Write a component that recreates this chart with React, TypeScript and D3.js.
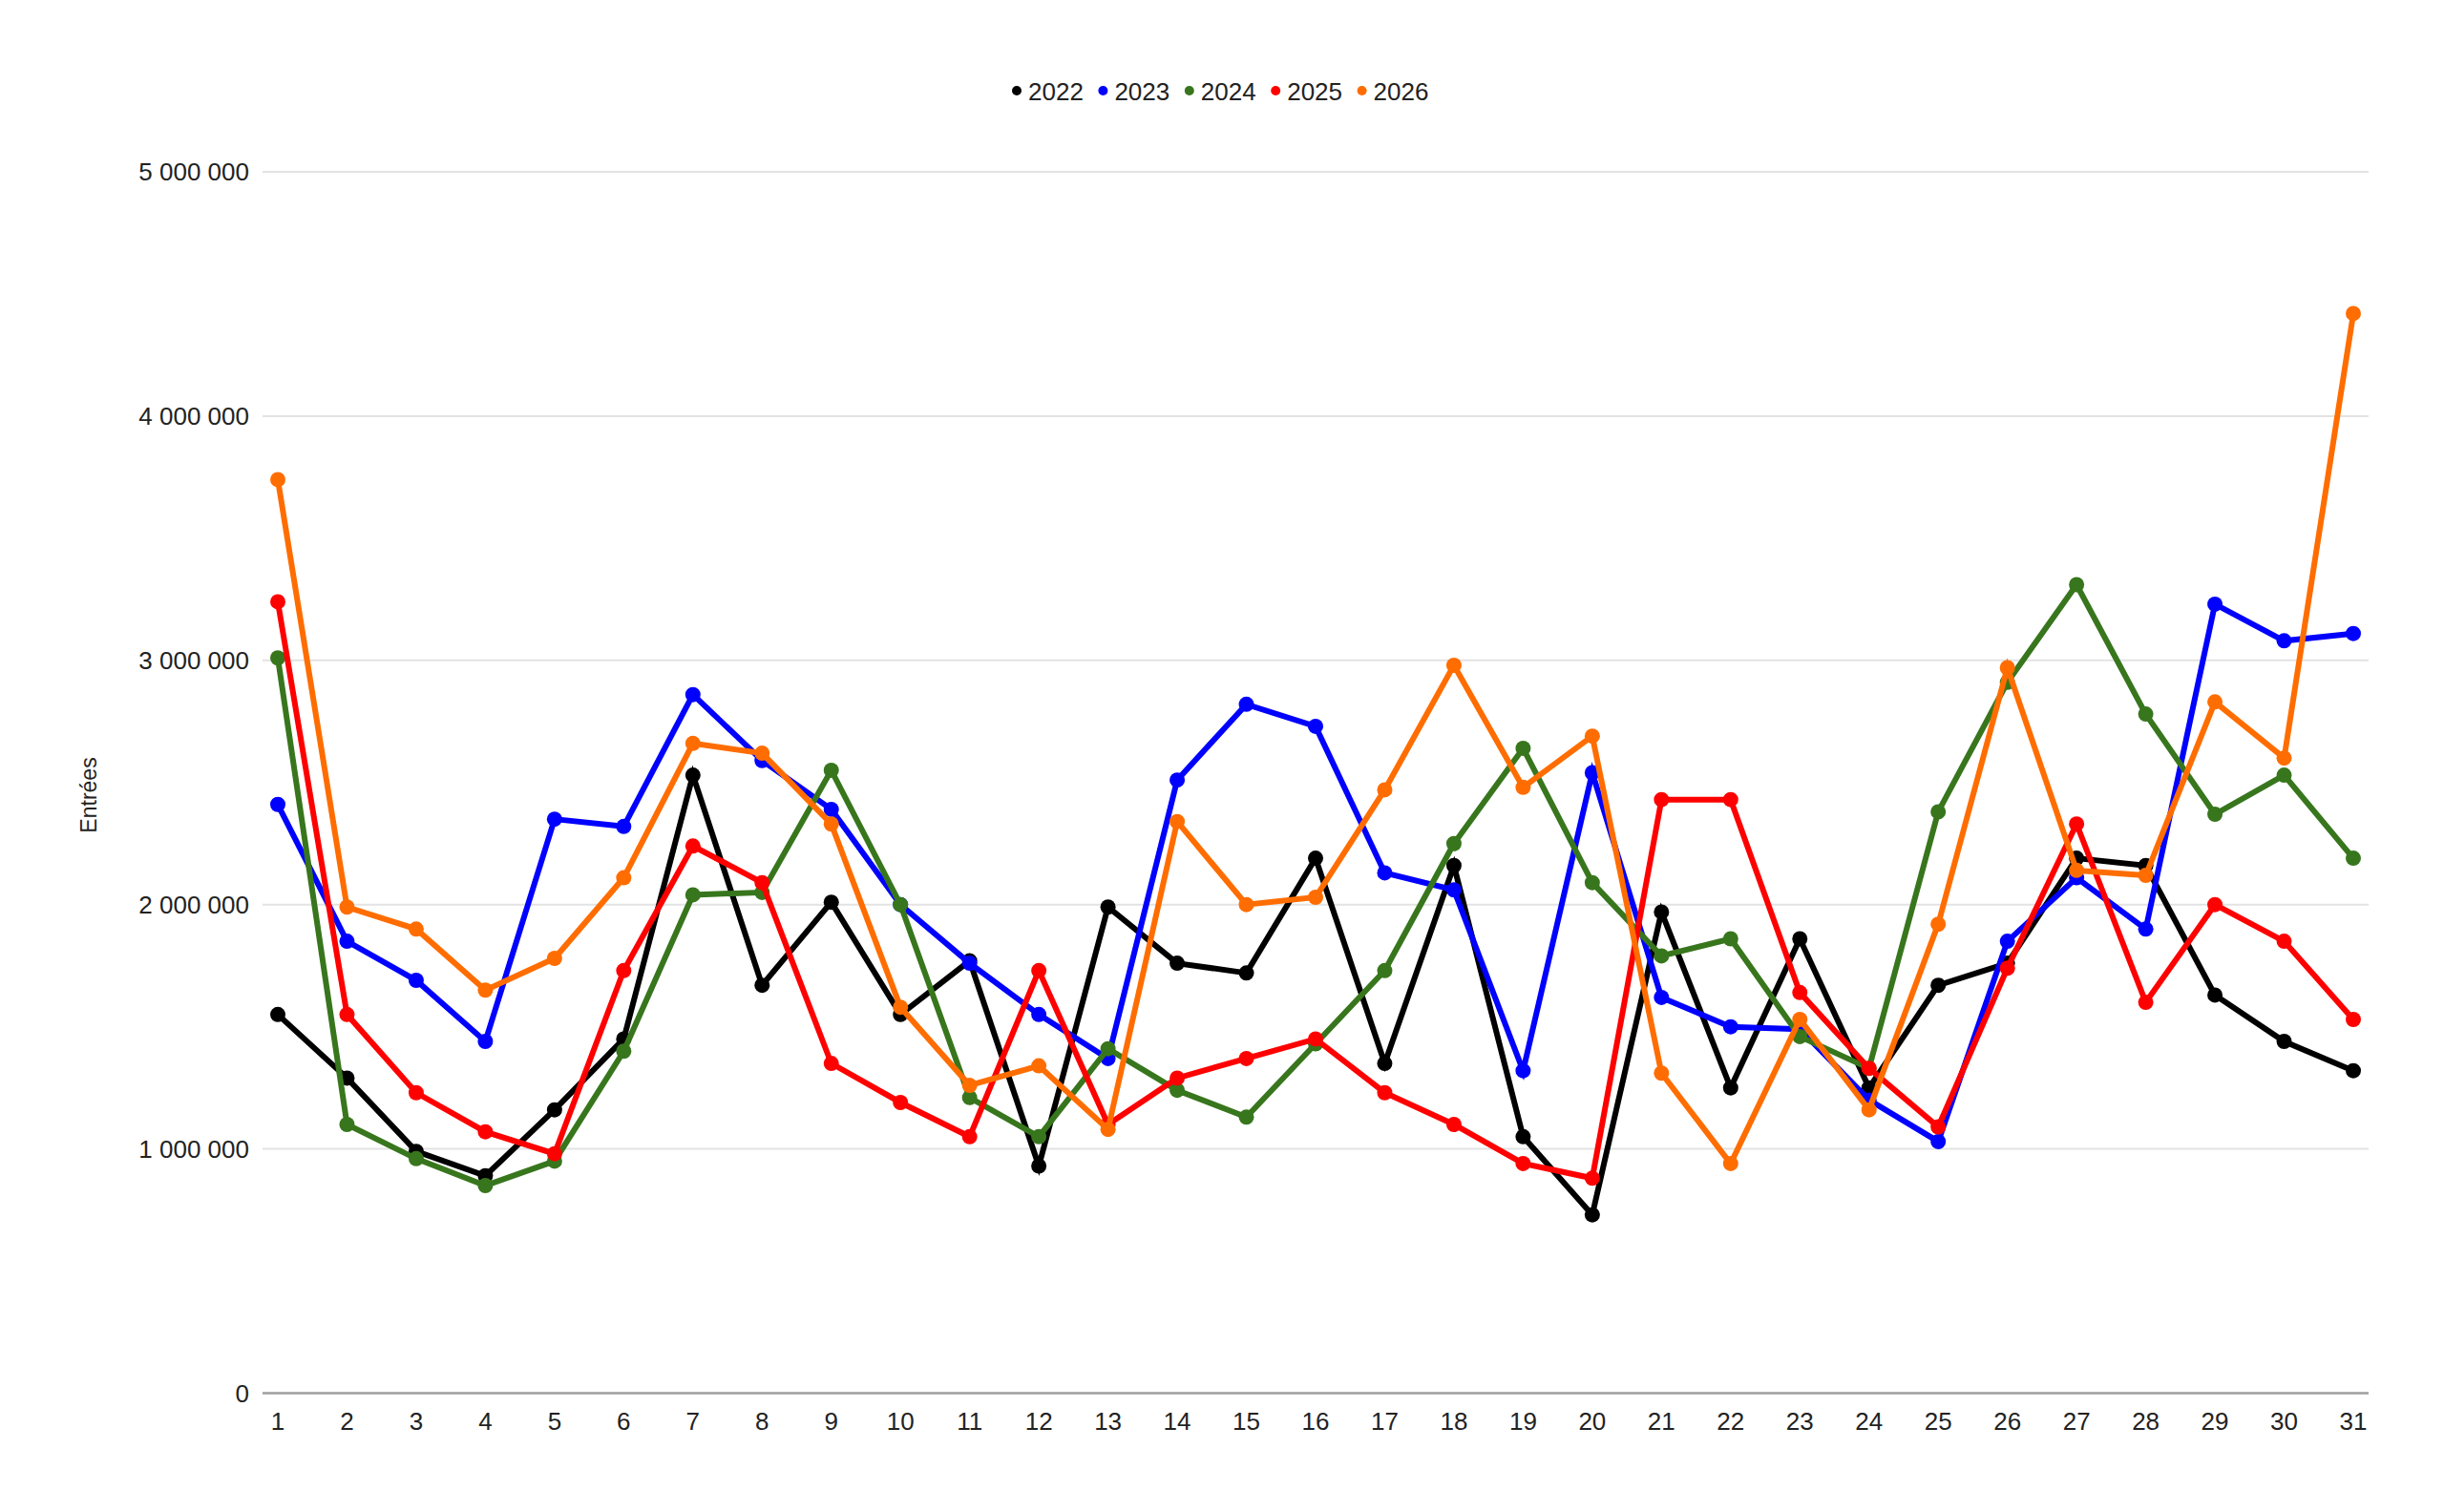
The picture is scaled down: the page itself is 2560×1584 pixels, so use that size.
import React, { useEffect, useRef } from 'react';
import * as d3 from 'd3';

const days = d3.range(1, 32);
const years = ['2022', '2023', '2024', '2025', '2026'];
const colors = ['#000000', '#0000ff', '#38761d', '#ff0000', '#ff6d01'];

const v2022 = [1.55, 1.29, 0.99, 0.89, 1.16, 1.45, 2.53, 1.67, 2.01, 1.55, 1.77, 0.93, 1.99, 1.76, 1.72, 2.19, 1.35, 2.16, 1.05, 0.73, 1.97, 1.25, 1.86, 1.25, 1.67, 1.76, 2.19, 2.16, 1.63, 1.44, 1.32];
const v2023 = [2.41, 1.85, 1.69, 1.44, 2.35, 2.32, 2.86, 2.59, 2.39, 2.0, 1.76, 1.55, 1.37, 2.51, 2.82, 2.73, 2.13, 2.06, 1.32, 2.54, 1.62, 1.5, 1.49, 1.2, 1.03, 1.85, 2.11, 1.9, 3.23, 3.08, 3.11];
const v2024 = [3.01, 1.1, 0.96, 0.85, 0.95, 1.4, 2.04, 2.05, 2.55, 2.0, 1.21, 1.05, 1.41, 1.24, 1.13, 1.43, 1.73, 2.25, 2.64, 2.09, 1.79, 1.86, 1.46, 1.33, 2.38, 2.91, 3.31, 2.78, 2.37, 2.53, 2.19];
const v2025 = [3.24, 1.55, 1.23, 1.07, 0.98, 1.73, 2.24, 2.09, 1.35, 1.19, 1.05, 1.73, 1.1, 1.29, 1.37, 1.45, 1.23, 1.1, 0.94, 0.88, 2.43, 2.43, 1.64, 1.33, 1.09, 1.74, 2.33, 1.6, 2.0, 1.85, 1.53];
const v2026 = [3.74, 1.99, 1.9, 1.65, 1.78, 2.11, 2.66, 2.62, 2.33, 1.58, 1.26, 1.34, 1.08, 2.34, 2.0, 2.03, 2.47, 2.98, 2.48, 2.69, 1.31, 0.94, 1.53, 1.16, 1.92, 2.97, 2.14, 2.12, 2.83, 2.6, 4.42];

const yTicks = [0, 1000000, 2000000, 3000000, 4000000, 5000000];

const series = [v2022, v2023, v2024, v2025, v2026];

const W = 2560;
const H = 1584;
const font = '"Liberation Sans", Arial, sans-serif';

const App: React.FC = () => {
  const ref = useRef<SVGSVGElement | null>(null);

  useEffect(() => {
    if (!ref.current) return;
    const svg = d3.select(ref.current);
    svg.selectAll('*').remove();

    const x = d3.scalePoint<number>().domain(days).range([291, 2465]);
    const y = d3.scaleLinear().domain([0, 5000000]).range([1459.5, 180]);
    const gridLeft = 275;
    const gridRight = 2481;

    const fmt = d3.formatLocale({ decimal: ',', thousands: '\u00a0', grouping: [3], currency: ['', ' €'] }).format(',d');

    svg.append('rect').attr('width', W).attr('height', H).attr('fill', '#ffffff');

    // gridlines
    svg.append('g')
      .selectAll('line')
      .data(yTicks.filter(t => t > 0))
      .enter().append('line')
      .attr('x1', gridLeft)
      .attr('x2', gridRight)
      .attr('y1', d => y(d))
      .attr('y2', d => y(d))
      .attr('stroke', '#e3e3e3')
      .attr('stroke-width', 2);

    // baseline
    svg.append('line')
      .attr('x1', gridLeft)
      .attr('x2', gridRight)
      .attr('y1', y(0))
      .attr('y2', y(0))
      .attr('stroke', '#9e9e9e')
      .attr('stroke-width', 2.5);

    // y tick labels
    svg.append('g')
      .selectAll('text')
      .data(yTicks)
      .enter().append('text')
      .attr('x', 261)
      .attr('y', d => y(d))
      .attr('dy', '0.36em')
      .attr('text-anchor', 'end')
      .style('font-family', font)
      .style('font-size', '26px')
      .style('fill', '#222')
      .text(d => fmt(d));

    // x tick labels
    svg.append('g')
      .selectAll('text')
      .data(days)
      .enter().append('text')
      .attr('x', d => x(d) as number)
      .attr('y', 1498)
      .attr('text-anchor', 'middle')
      .style('font-family', font)
      .style('font-size', '26px')
      .style('fill', '#222')
      .text(d => String(d));

    // y axis title
    svg.append('text')
      .attr('transform', 'translate(101,833) rotate(-90)')
      .attr('text-anchor', 'middle')
      .style('font-family', font)
      .style('font-size', '23px')
      .style('fill', '#222')
      .text('Entrées');

    const line = d3.line<number>()
      .x((_, i) => x(days[i]) as number)
      .y(d => y(d * 1000000));

    series.forEach((vals, si) => {
      const g = svg.append('g');
      g.append('path')
        .datum(vals)
        .attr('d', line)
        .attr('fill', 'none')
        .attr('stroke', colors[si])
        .attr('stroke-width', 6)
        .attr('stroke-linejoin', 'miter');
      g.selectAll('circle')
        .data(vals)
        .enter().append('circle')
        .attr('cx', (_, i) => x(days[i]) as number)
        .attr('cy', d => y(d * 1000000))
        .attr('r', 8)
        .attr('fill', colors[si]);
    });

    // legend
    const legend = svg.selectAll('.legend')
      .data(years)
      .enter().append('g')
      .attr('class', 'legend')
      .attr('transform', (_, i) => `translate(${1065 + i * 90.4},0)`);

    legend.append('circle')
      .attr('cx', 0)
      .attr('cy', 95)
      .attr('r', 5)
      .attr('fill', (_, i) => colors[i]);

    legend.append('text')
      .attr('x', 12)
      .attr('y', 105)
      .style('font-family', font)
      .style('font-size', '26px')
      .style('fill', '#222')
      .text(d => d);
  }, []);

  return (
    <svg
      ref={ref}
      width={W}
      height={H}
      style={{ position: 'absolute', left: 0, top: 0, display: 'block' }}
    />
  );
};

export default App;
